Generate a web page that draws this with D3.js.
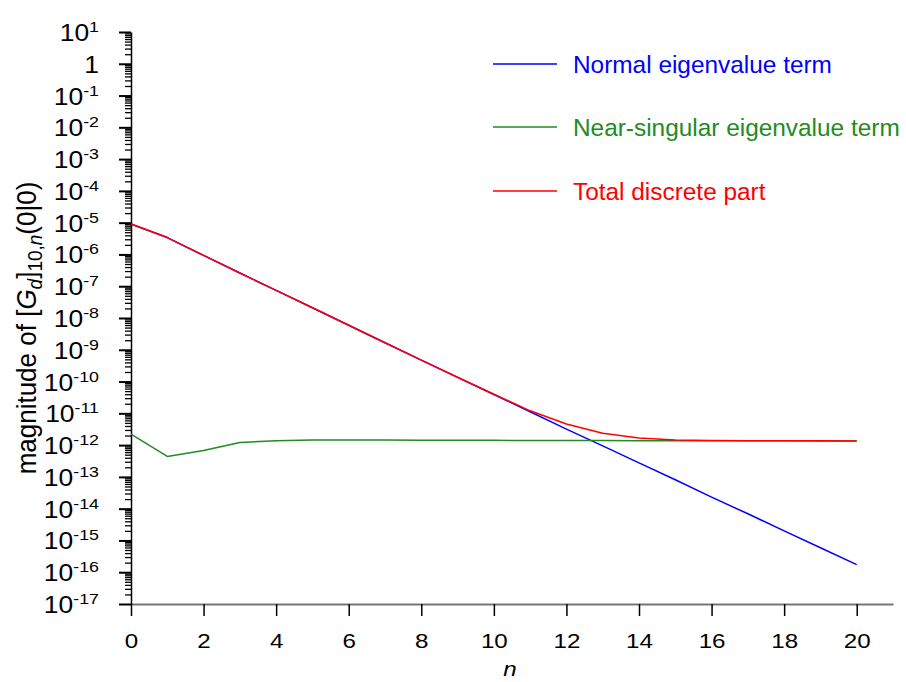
<!DOCTYPE html>
<html>
<head>
<meta charset="utf-8">
<script src="https://cdn.jsdelivr.net/npm/d3@7"></script>
<style>
  html, body { margin: 0; padding: 0; background: #fff; }
  text { font-family: "Liberation Sans", Arial, Helvetica, sans-serif; }
</style>
</head>
<body>
<svg id="chart" width="906" height="682"></svg>
<script>
// ---- data ----
const nValues = [0,1,2,3,4,5,6,7,8,9,10,11,12,13,14,15,16,17,18,19,20];
const normalTerm = [9.1e-6, 3.4e-6, 9.3e-7, 2.6e-7, 7.4e-8, 2.1e-8, 5.9e-9, 1.66e-9, 4.7e-10, 1.35e-10,
  3.9e-11, 1.12e-11, 3.2e-12, 9.5e-13, 2.75e-13, 8.1e-14, 2.3e-14, 6.9e-15, 2.0e-15, 5.9e-16, 1.74e-16];
const nearSingularTerm = [2.2e-12, 4.4e-13, 6.8e-13, 1.2e-12, 1.38e-12, 1.45e-12, 1.45e-12, 1.44e-12, 1.43e-12, 1.42e-12,
  1.41e-12, 1.40e-12, 1.40e-12, 1.39e-12, 1.38e-12, 1.38e-12, 1.37e-12, 1.36e-12, 1.36e-12, 1.35e-12, 1.35e-12];
const totalDiscrete = [9.1e-6, 3.4e-6, 9.3e-7, 2.6e-7, 7.4e-8, 2.1e-8, 5.9e-9, 1.66e-9, 4.7e-10, 1.37e-10,
  4.0e-11, 1.2e-11, 4.6e-12, 2.35e-12, 1.68e-12, 1.46e-12, 1.40e-12, 1.37e-12, 1.36e-12, 1.36e-12, 1.35e-12];
const seriesNames = ["Normal eigenvalue term", "Near-singular eigenvalue term", "Total discrete part"];
const seriesColors = ["#0000ff", "#228b22", "#ff0000"];
const xTickValues = [0,2,4,6,8,10,12,14,16,18,20];
const yExponents = [-17,-16,-15,-14,-13,-12,-11,-10,-9,-8,-7,-6,-5,-4,-3,-2,-1,0,1];

// ---- layout ----
const svg = d3.select("#chart");
const x = d3.scaleLinear().domain([0, 21]).range([131, 893]);
const y = d3.scaleLog().domain([1e-17, 1e1]).range([604, 32]);
const SX = 1.15; // horizontal stretch of text seen in the reference

// minor y ticks
const minorVals = [];
yExponents.slice(0, -1).forEach(e => { for (let m = 2; m <= 9; m++) minorVals.push(m * Math.pow(10, e)); });

// x axis
const xAxis = svg.append("g").attr("transform", "translate(0,604)")
  .call(d3.axisBottom(x).tickValues(xTickValues).tickSize(12).tickSizeOuter(0).tickPadding(17)
    .tickFormat(d3.format("d")));
xAxis.select(".domain").attr("stroke", "#777").attr("stroke-width", 2);
xAxis.selectAll(".tick line").attr("stroke", "#000").attr("stroke-width", 1.5);
xAxis.selectAll(".tick text").attr("font-size", 21).attr("fill", "#000")
  .attr("transform", `scale(${SX},1)`)
  .style("font-family", "'Liberation Sans', Arial, sans-serif");

// y axis minor ticks
const yMinor = svg.append("g").attr("transform", "translate(131,0)")
  .call(d3.axisLeft(y).tickValues(minorVals).tickSize(6).tickSizeOuter(0).tickFormat(""));
yMinor.select(".domain").remove();
yMinor.selectAll(".tick line").attr("stroke", "#000").attr("stroke-width", 1.3);

// y axis majors
const yMajor = svg.append("g").attr("transform", "translate(131,0)")
  .call(d3.axisLeft(y).tickValues(yExponents.map(e => Math.pow(10, e))).tickSize(12).tickSizeOuter(0).tickFormat(""));
yMajor.select(".domain").attr("stroke", "#000").attr("stroke-width", 1.5);
yMajor.selectAll(".tick line").attr("stroke", "#000").attr("stroke-width", 2);

// y tick labels with superscripts
const yLab = svg.append("g");
yExponents.forEach(e => {
  const t = yLab.append("text")
    .attr("transform", `translate(99,${y(Math.pow(10, e)) + 9}) scale(${SX},1)`)
    .attr("text-anchor", "end").attr("font-size", 23).attr("fill", "#000");
  if (e === 0) {
    t.text("1");
  } else {
    t.append("tspan").text("10");
    t.append("tspan").attr("font-size", 15.5).attr("dy", -9).text(String(e));
  }
});

// lines
const line = d3.line().x((d, i) => x(nValues[i])).y(d => y(d));
[normalTerm, nearSingularTerm, totalDiscrete].forEach((s, k) => {
  svg.append("path").datum(s).attr("d", line)
    .attr("fill", "none").attr("stroke", seriesColors[k]).attr("stroke-width", 1.5)
    .attr("stroke-linejoin", "round");
});

// legend
const legendY = [64, 127, 191];
seriesNames.forEach((name, k) => {
  svg.append("line").attr("x1", 493).attr("x2", 557).attr("y1", legendY[k]).attr("y2", legendY[k])
    .attr("stroke", seriesColors[k]).attr("stroke-width", 1.5);
  svg.append("text").attr("x", 573).attr("y", legendY[k] + 8.5)
    .attr("font-size", 24.4).attr("fill", seriesColors[k]).text(name);
});

// axis titles
svg.append("text").attr("transform", `translate(510,676) scale(${SX},1)`).attr("text-anchor", "middle")
  .attr("font-size", 21).attr("font-style", "italic").text("n");

const yt = svg.append("text").attr("transform", `translate(36,328) scale(1.08,1) rotate(-90)`)
  .attr("text-anchor", "middle").attr("font-size", 26).attr("fill", "#000");
yt.append("tspan").text("magnitude of [");
yt.append("tspan").attr("font-style", "italic").text("G");
yt.append("tspan").attr("font-style", "italic").attr("font-size", 19).attr("dy", 6).text("d");
yt.append("tspan").attr("dy", -6).text("]");
yt.append("tspan").attr("font-size", 19).attr("dy", 6).text("10,");
yt.append("tspan").attr("font-size", 19).attr("font-style", "italic").text("n");
yt.append("tspan").attr("dy", -6).text("(0|0)");
</script>
</body>
</html>
